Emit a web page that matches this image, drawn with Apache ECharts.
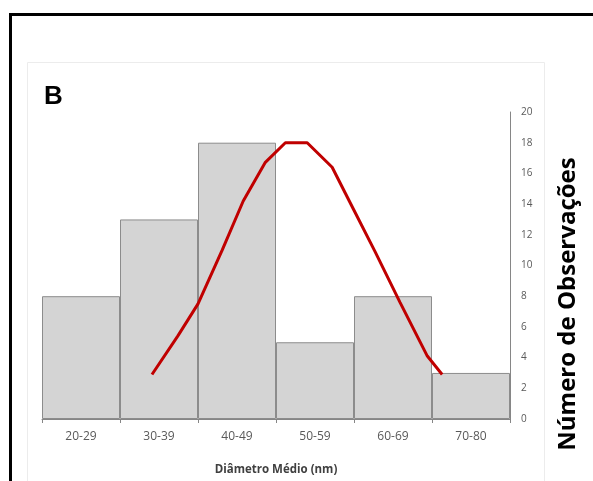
<!DOCTYPE html>
<html>
<head>
<meta charset="utf-8">
<script src="https://cdn.jsdelivr.net/npm/echarts@6/dist/echarts.min.js"></script>
<style>
html,body{margin:0;padding:0;background:#fff;}
#chart{width:593px;height:481px;}
</style>
</head>
<body>
<div id="chart"></div>
<script>
var categories = ['20-29', '30-39', '40-49', '50-59', '60-69', '70-80'];
var counts = [8, 13, 18, 5, 8, 3];
var curveX = [34.1, 37.4, 40.0, 43.1, 45.8, 48.6, 51.2, 54.0, 57.2, 59.9, 62.7, 65.9, 69.4, 71.3];
var curveY = [2.9, 5.4, 7.5, 11.0, 14.2, 16.7, 18.0, 18.0, 16.4, 13.7, 10.9, 7.6, 4.1, 2.9];
var yTicks = [0, 2, 4, 6, 8, 10, 12, 14, 16, 18, 20];
var panelLabel = 'B';
var xTitle = 'Diâmetro Médio (nm)';
var yTitle = 'Número de Observações';

var curve = curveX.map(function (x, i) { return [x, curveY[i]]; });

var chart = echarts.init(document.getElementById('chart'), null, {renderer: 'canvas'});
chart.setOption({
  animation: false,
  backgroundColor: '#ffffff',
  grid: {left: 42, right: 83, top: 112, bottom: 60, containLabel: false},
  xAxis: [{
    type: 'category',
    data: categories,
    boundaryGap: true,
    axisLine: {show: true, lineStyle: {color: '#868686', width: 1}},
    axisTick: {show: true, length: 4, alignWithLabel: false, lineStyle: {color: '#868686'}},
    axisLabel: {color: '#595959', fontSize: 12, fontFamily: 'Open Sans', margin: 12},
    name: xTitle,
    nameLocation: 'middle',
    nameGap: 45,
    nameTextStyle: {color: '#404040', fontSize: 11.5, fontWeight: 'bold', fontFamily: 'Open Sans'}
  }, {
    type: 'value',
    min: 20,
    max: 80,
    show: false
  }],
  yAxis: {
    type: 'value',
    position: 'right',
    min: yTicks[0],
    max: yTicks[yTicks.length - 1],
    interval: 2,
    axisLine: {show: true, lineStyle: {color: '#868686', width: 1}},
    axisTick: {show: false},
    splitLine: {show: false},
    axisLabel: {color: '#595959', fontSize: 10, fontFamily: 'Open Sans', margin: 11}
  },
  graphic: [
    {type: 'rect', shape: {x: 10.5, y: 14.5, width: 700, height: 600}, style: {fill: null, stroke: '#000', lineWidth: 3}, z: 100},
    {type: 'rect', shape: {x: 27.5, y: 62.5, width: 517, height: 500}, style: {fill: null, stroke: '#ececec', lineWidth: 1}, z: 0},
    {type: 'text', left: 44, top: 84, style: {text: panelLabel, fontSize: 26, fontWeight: 'bold', fontFamily: 'Liberation Sans', fill: '#000'}},
    {type: 'text', x: 568, y: 304, rotation: Math.PI / 2,
      style: {text: yTitle, fontSize: 24, fontWeight: 'bold', fontFamily: 'Open Sans', fill: '#000', align: 'center', verticalAlign: 'middle'}}
  ],
  series: [{
    type: 'bar',
    data: counts,
    barCategoryGap: 0,
    itemStyle: {color: '#d4d4d4', borderColor: '#8c8c8c', borderWidth: 1},
    silent: true
  }, {
    type: 'line',
    xAxisIndex: 1,
    data: curve,
    showSymbol: false,
    smooth: false,
    lineStyle: {color: '#c00000', width: 3},
    silent: true,
    z: 5
  }]
});
</script>
</body>
</html>
